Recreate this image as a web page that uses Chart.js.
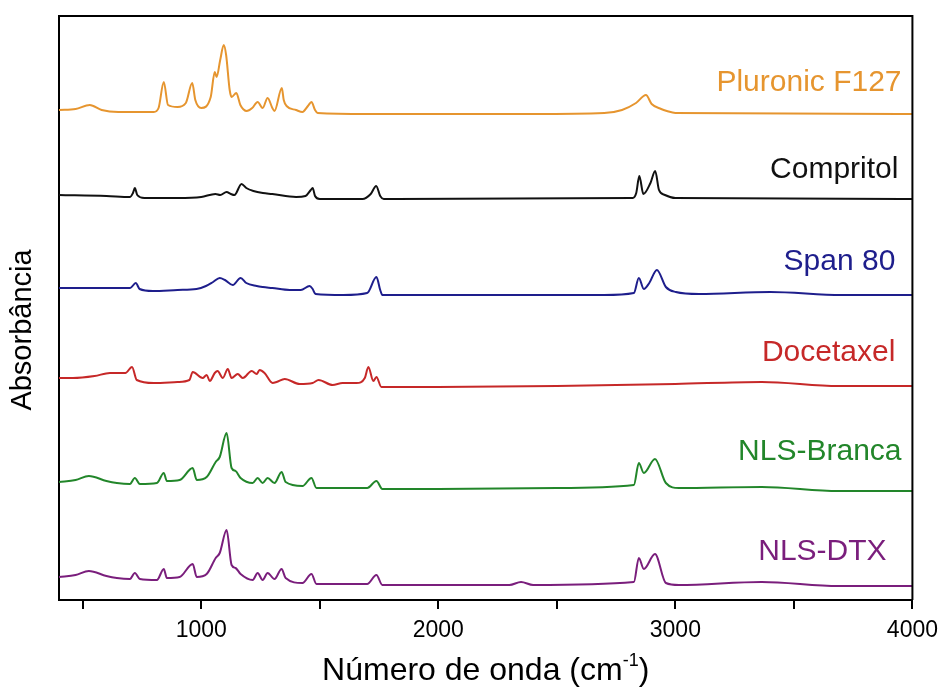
<!DOCTYPE html>
<html>
<head>
<meta charset="utf-8">
<script src="https://cdn.jsdelivr.net/npm/chart.js@4.4.1/dist/chart.umd.min.js"></script>
<style>
	html, body { margin: 0; padding: 0; background: #fff; }
	canvas { display: block; }
</style>
</head>
<body>
<canvas id="ftir_chart" width="946" height="696"></canvas>
<script>
// wavenumbers (cm-1) and stacked absorbance (arbitrary units)
const pluronicX = [400, 470, 530, 580, 650, 800, 820, 842, 860, 900, 935, 962, 975, 1000, 1040, 1057, 1065, 1080, 1095, 1105, 1120, 1128, 1148, 1165, 1192, 1215, 1238, 1259, 1280, 1300, 1309, 1340, 1348, 1360, 1400, 1427, 1450, 1465, 1480, 1491, 1700, 2000, 2400, 2700, 2775, 2834, 2876, 2900, 2940, 2964, 3000, 4000];
const pluronicY = [490, 491, 495, 490, 488, 488, 492, 518, 495, 493, 497, 517, 500, 492, 503, 528, 523, 540, 555, 545, 510, 503, 507, 495, 489, 492, 498, 492, 502, 492, 489, 512, 500, 494, 490, 488, 494, 498, 490, 487, 486, 486, 486, 487, 490, 497, 505, 496, 491, 489, 487, 486];

const compritolX = [400, 600, 700, 712, 720, 730, 760, 900, 1000, 1060, 1080, 1107, 1125, 1140, 1170, 1190, 1220, 1260, 1300, 1400, 1440, 1462, 1470, 1480, 1500, 1680, 1715, 1738, 1755, 1770, 2820, 2835, 2848, 2865, 2895, 2915, 2931, 2956, 3000, 4000];
const compritolY = [405, 404, 403, 407, 412, 405, 402, 402, 403, 406, 405, 408, 406, 405, 416, 412, 409, 407, 406, 403, 404, 410, 412, 404, 401, 401, 406, 414, 404, 401, 402, 407, 424, 406, 417, 429, 410, 405, 402, 401];

const spanX = [400, 700, 724, 740, 796, 900, 980, 1020, 1050, 1078, 1100, 1133, 1166, 1190, 1234, 1260, 1300, 1373, 1420, 1457, 1470, 1482, 1600, 1700, 1739, 1755, 1764, 2700, 2825, 2846, 2867, 2890, 2922, 2960, 3002, 3100, 3400, 3700, 4000];
const spanY = [312, 312, 317, 311, 309, 310, 311, 314, 318, 322, 320, 315, 322, 317, 314, 313, 312, 310, 310, 314, 311, 306, 305, 307, 323, 310, 305, 305, 307, 322, 311, 317, 330, 313, 308, 306, 308, 305, 305];

const docetaxelX = [400, 459, 550, 615, 680, 708, 728, 800, 900, 950, 964, 1006, 1023, 1036, 1057, 1069, 1091, 1112, 1128, 1154, 1175, 1213, 1234, 1246, 1267, 1301, 1318, 1352, 1415, 1470, 1495, 1554, 1596, 1655, 1690, 1705, 1726, 1739, 1760, 2000, 2500, 3000, 3364, 3688, 4000];
const docetaxelY = [222, 222, 224, 227, 227, 233, 220, 217, 218, 220, 228, 222, 225, 219, 227, 229, 222, 231, 222, 226, 222, 229, 226, 230, 227, 217, 218, 221, 216, 217, 220, 215, 217, 217, 222, 233, 219, 223, 213, 213, 214, 216, 218, 214, 214];

const brancaX = [400, 470, 526, 600, 644, 699, 720, 741, 813, 842, 855, 909, 964, 981, 1023, 1061, 1078, 1107, 1128, 1145, 1166, 1217, 1238, 1259, 1280, 1309, 1339, 1356, 1427, 1465, 1486, 1700, 1739, 1764, 2000, 2500, 2825, 2846, 2867, 2914, 2960, 3015, 3364, 3688, 4000];
const brancaY = [118, 120, 124, 119, 117, 116, 122, 116, 117, 127, 119, 120, 132, 120, 123, 138, 143, 167, 132, 129, 122, 117, 122, 117, 122, 117, 128, 118, 114, 122, 112, 112, 119, 111, 111, 112, 115, 137, 127, 141, 117, 112, 113, 109, 109];

const dtxX = [400, 470, 526, 600, 644, 699, 720, 741, 813, 842, 855, 909, 964, 981, 1023, 1061, 1078, 1107, 1128, 1145, 1166, 1217, 1238, 1259, 1280, 1309, 1339, 1356, 1427, 1465, 1486, 1700, 1739, 1764, 2300, 2349, 2400, 2825, 2846, 2867, 2914, 2960, 3015, 3364, 3688, 4000];
const dtxY = [23, 25, 29, 24, 22, 21, 27, 21, 20, 31, 22, 23, 36, 23, 26, 42, 47, 70, 35, 32, 26, 20, 27, 20, 27, 21, 31, 22, 17, 26, 16, 16, 25, 15, 15, 18, 15, 18, 42, 31, 46, 17, 15, 18, 14, 14];

const seriesNames = ["Pluronic F127", "Compritol", "Span 80", "Docetaxel", "NLS-Branca", "NLS-DTX"];
const seriesColors = ["#E6952F", "#111111", "#1E1E8C", "#C62828", "#22862A", "#7A1E7C"];
const seriesX = [pluronicX, compritolX, spanX, docetaxelX, brancaX, dtxX];
const seriesY = [pluronicY, compritolY, spanY, docetaxelY, brancaY, dtxY];

// tick positions on the wavenumber axis; only the thousands carry a label
const xTicks = [500, 1000, 1500, 2000, 2500, 3000, 3500, 4000];

// where each name sits: right end (cm-1), vertical centre (a.u.)
const labelAt = [[3954, 517], [3941, 430], [3928, 338], [3928, 247], [3954, 148], [3891, 48]];

const X_MIN = 400, X_MAX = 4000, Y_MIN = 0, Y_MAX = 584;
const FONT = "'Liberation Sans', Arial, sans-serif";

const frameAndText = {
	id: "frameAndText",
	afterDraw(chart) {
		const { ctx, chartArea: a, scales } = chart;
		ctx.save();
		// top and right edges of the box
		ctx.strokeStyle = "#000";
		ctx.lineWidth = 2;
		ctx.beginPath();
		ctx.moveTo(a.left, a.top);
		ctx.lineTo(a.right, a.top);
		ctx.lineTo(a.right, a.bottom);
		ctx.stroke();

		// trace names
		ctx.font = "30px " + FONT;
		ctx.textAlign = "right";
		ctx.textBaseline = "middle";
		labelAt.forEach((p, i) => {
			ctx.fillStyle = seriesColors[i];
			ctx.fillText(seriesNames[i], scales.x.getPixelForValue(p[0]), scales.y.getPixelForValue(p[1]));
		});

		// y title
		ctx.fillStyle = "#000";
		ctx.save();
		ctx.translate(23, 330);
		ctx.rotate(-Math.PI / 2);
		ctx.textAlign = "center";
		ctx.font = "29px " + FONT;
		ctx.fillText("Absorbância", 0, 0);
		ctx.restore();

		// x title with superscript
		ctx.textAlign = "left";
		ctx.textBaseline = "alphabetic";
		const main = "Número de onda (cm", sup = "-1", close = ")";
		ctx.font = "32px " + FONT;
		const w1 = ctx.measureText(main).width;
		const w3 = ctx.measureText(close).width;
		ctx.font = "18px " + FONT;
		const w2 = ctx.measureText(sup).width;
		const total = w1 + w2 + w3;
		const cx = (a.left + a.right) / 2;
		const base = 680;
		let x = cx - total / 2;
		ctx.font = "32px " + FONT;
		ctx.fillText(main, x, base);
		x += w1;
		ctx.font = "18px " + FONT;
		ctx.fillText(sup, x, base - 14);
		x += w2;
		ctx.font = "32px " + FONT;
		ctx.fillText(close, x, base);
		ctx.restore();
	}
};

const datasets = seriesNames.map((name, i) => ({
	label: name,
	data: seriesX[i].map((wn, j) => ({ x: wn, y: seriesY[i][j] })),
	borderColor: seriesColors[i],
	borderWidth: 2,
	pointRadius: 0,
	cubicInterpolationMode: "monotone",
	fill: false
}));

new Chart(document.getElementById("ftir_chart"), {
	type: "line",
	data: { datasets },
	options: {
		responsive: false,
		animation: false,
		devicePixelRatio: 1,
		layout: { padding: { top: 16, right: 32, left: 0, bottom: 0 } },
		plugins: { legend: { display: false }, tooltip: { enabled: false } },
		scales: {
			x: {
				type: "linear",
				min: X_MIN,
				max: X_MAX,
				afterBuildTicks: (axis) => { axis.ticks = xTicks.map((v) => ({ value: v })); },
				afterFit: (axis) => { axis.height = 96; },
				border: { display: true, color: "#000", width: 2 },
				grid: { display: true, drawOnChartArea: false, drawTicks: true, tickLength: 9, color: "#000", lineWidth: 2 },
				ticks: {
					autoSkip: false,
					maxRotation: 0,
					padding: 8,
					color: "#000",
					font: { family: FONT, size: 23 },
					callback: (v) => (v % 1000 === 0 ? String(v) : "")
				}
			},
			y: {
				min: Y_MIN,
				max: Y_MAX,
				afterFit: (axis) => { axis.width = 59; },
				border: { display: true, color: "#000", width: 2 },
				grid: { display: false },
				ticks: { display: false }
			}
		}
	},
	plugins: [frameAndText]
});
</script>
</body>
</html>
